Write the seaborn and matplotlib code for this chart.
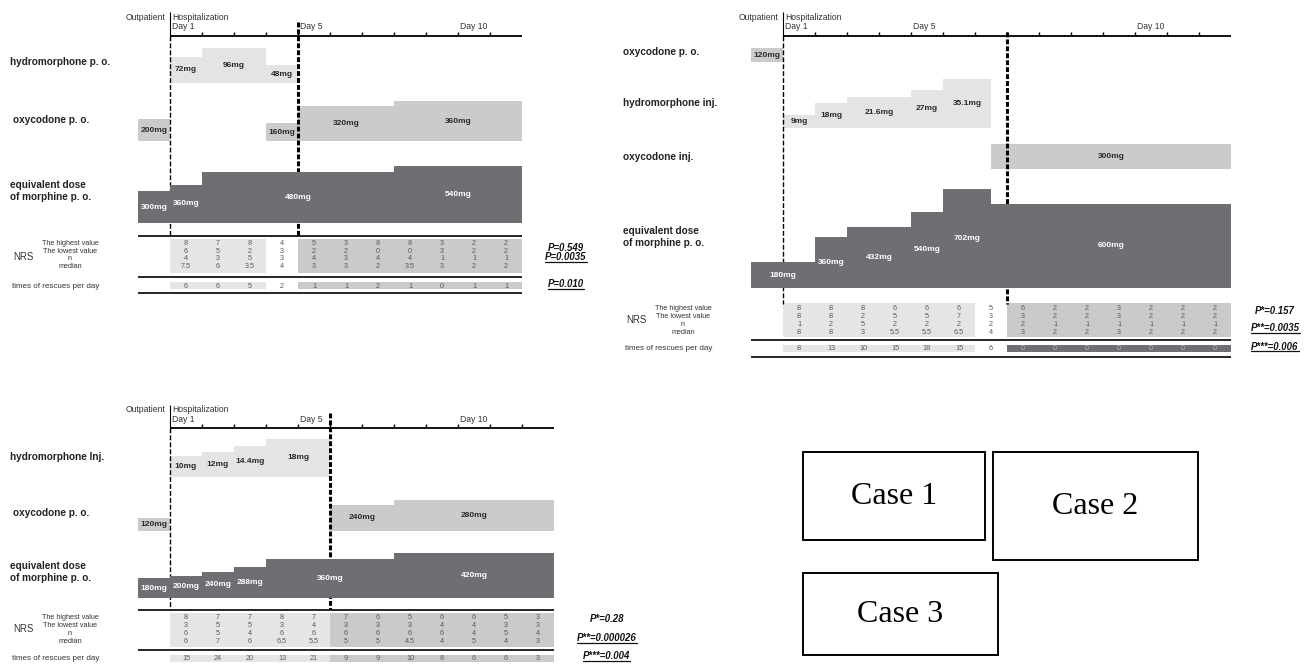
import numpy as np
import matplotlib
matplotlib.use("Agg")
import matplotlib.pyplot as plt
from matplotlib.lines import Line2D
from matplotlib.patches import Rectangle
from matplotlib.transforms import IdentityTransform
import seaborn as sns

sns.set_style("white")
plt.rcParams['font.family'] = ['Liberation Sans', 'DejaVu Sans']
plt.rcParams['lines.scale_dashes'] = False

W, H = 1310, 666
DAY = 32  # pixels per day column

# ---- data: (start day, end day, dose mg); day 0 = outpatient, day k = hospital day k ----
c1_hydro_po = [(1, 2, 72), (2, 4, 96), (4, 5, 48)]
c1_oxy_po = [(0, 1, 200), (4, 5, 160), (5, 8, 320), (8, 12, 360)]
c1_morph = [(0, 1, 300), (1, 2, 360), (2, 8, 480), (8, 12, 540)]

c2_oxy_po = [(0, 1, 120)]
c2_hydro_inj = [(1, 2, 9), (2, 3, 18), (3, 5, 21.6), (5, 6, 27), (6, 7.5, 35.1)]
c2_oxy_inj = [(7.5, 15, 300)]
c2_morph = [(0, 2, 180), (2, 3, 360), (3, 5, 432), (5, 6, 540), (6, 7.5, 702), (7.5, 15, 600)]

c3_hydro_inj = [(1, 2, 10), (2, 3, 12), (3, 4, 14.4), (4, 6, 18)]
c3_oxy_po = [(0, 1, 120), (6, 8, 240), (8, 13, 280)]
c3_morph = [(0, 1, 180), (1, 2, 200), (2, 3, 240), (3, 4, 288), (4, 8, 360), (8, 13, 420)]

# NRS table
c1_high = [8, 7, 8, 4, 5, 3, 8, 8, 3, 2, 2]
c1_low = [6, 5, 2, 3, 2, 2, 0, 0, 3, 2, 2]
c1_n = [4, 3, 5, 3, 4, 3, 4, 4, 1, 1, 1]
c1_median = [7.5, 6, 3.5, 4, 3, 3, 2, 3.5, 3, 2, 2]
c1_rescues = [6, 6, 5, 2, 1, 1, 2, 1, 0, 1, 1]
c1_pvals = ['P=0.549', 'P=0.0035', 'P=0.010']

c2_high = [8, 8, 8, 6, 6, 6, 5, 6, 2, 2, 3, 2, 2, 2]
c2_low = [8, 8, 2, 5, 5, 7, 3, 3, 2, 2, 3, 2, 2, 2]
c2_n = [1, 2, 5, 2, 2, 2, 2, 2, 1, 1, 1, 1, 1, 1]
c2_median = [8, 8, 3, 5.5, 5.5, 6.5, 4, 3, 2, 2, 3, 2, 2, 2]
c2_rescues = [8, 13, 10, 15, 18, 15, 6, 0, 0, 0, 0, 0, 0, 0]
c2_pvals = ['P*=0.157', 'P**=0.0035', 'P***=0.006']

c3_high = [8, 7, 7, 8, 7, 7, 6, 5, 6, 6, 5, 3]
c3_low = [3, 5, 5, 3, 4, 3, 3, 3, 4, 4, 3, 3]
c3_n = [6, 5, 4, 6, 6, 6, 6, 6, 6, 4, 5, 4]
c3_median = [6, 7, 6, 6.5, 5.5, 5, 5, 4.5, 4, 5, 4, 3]
c3_rescues = [15, 24, 20, 13, 21, 9, 9, 10, 8, 6, 6, 3]
c3_pvals = ['P*=0.28', 'P**=0.000026', 'P***=0.004']

nrs_labels = ['The highest value', 'The lowest value', 'n', 'median']

HYD, OXY, MOR = '#e4e4e5', '#cacbcc', '#6e6f72'
SHADE = {'L': '#e5e5e6', 'M': '#c9cacb', 'D': '#6e6f72'}
TXT = '#222222'
VAL = '#5a5a5a'

fig = plt.figure(figsize=(W / 100, H / 100), dpi=100)
underlined = []


def px_axes(x0, y0, x1, y1):
    return fig.add_axes([x0 / W, 1 - y1 / H, (x1 - x0) / W, (y1 - y0) / H])


def draw_case(x0, n, rows, hdr_y, axis_y, day_labels, thick_day, thick_top, dash_bot,
              tab, tables, shade_nrs, shade_resc, pvals, p_x, p_ys):
    x1 = x0 + DAY * (n + 1)
    tl = px_axes(x0, 0, x1, H)
    tl.set_xlim(0, n + 1)
    tl.set_ylim(H, 0)
    tl.axis('off')
    tl.set_zorder(2)

    # drug rows
    for label, bars, color, base, scale, ly, indent in rows:
        ra = px_axes(x0, base - 130, x1, base)
        ra.set_xlim(0, n + 1)
        ra.set_ylim(0, 130 / scale)
        ra.axis('off')
        ra.set_zorder(3 if color == MOR else 1)
        s = np.array([b[0] for b in bars], float)
        e = np.array([b[1] for b in bars], float)
        d = np.array([b[2] for b in bars], float)
        ra.bar(s, d, width=e - s, align='edge', color=color, linewidth=0)
        tc = 'white' if color == MOR else '#2a2a2a'
        for si, ei, di in bars:
            ra.text((si + ei) / 2, di / 2, f"{di:g}mg", ha='center', va='center',
                    fontsize=6, fontweight='bold', color=tc)
        tl.text(-4.0 + indent, ly, label, ha='left', va='center', fontsize=7.2,
                fontweight='bold', color=TXT, linespacing=1.25)

    # timeline header
    tl.text(1 - 0.13, hdr_y, 'Outpatient', ha='right', va='center', fontsize=6.2, color='#333')
    tl.text(1 + 0.06, hdr_y, 'Hospitalization', ha='left', va='center', fontsize=6.2, color='#333')
    for dd, s in day_labels:
        tl.text(dd + 0.06, hdr_y + 9.5, s, ha='left', va='center', fontsize=6.2, color='#333')
    tl.hlines(axis_y, 1, n + 1, color='black', lw=1.3)
    tl.vlines(range(2, n + 1), axis_y - 4, axis_y, color='black', lw=1)
    tl.vlines(1, hdr_y - 5, axis_y, color='black', lw=0.8)
    tl.vlines(1, axis_y, dash_bot, color='black', lw=1, linestyles=[(0, (3.5, 1.5))])
    tl.vlines(thick_day, thick_top, dash_bot, color='black', lw=2.2, linestyles=[(0, (3.5, 1.5))])

    # NRS table
    top_line, row0, step, shade, nrs_y, mid, resc_y, resc_shade, bottom = tab
    left = -4.06
    if top_line is not None:
        tl.hlines(top_line, left, n + 1, color='black', lw=1.2)
    for key in 'LMD':
        idx = np.array([i for i, c in enumerate(shade_nrs) if c == key])
        if len(idx):
            tl.bar(idx + 1, shade[1] - shade[0], bottom=shade[0], width=1, align='edge',
                   color=SHADE[key], linewidth=0)
        idx = np.array([i for i, c in enumerate(shade_resc) if c == key])
        if len(idx):
            tl.bar(idx + 1, resc_shade[1] - resc_shade[0], bottom=resc_shade[0], width=1,
                   align='edge', color=SHADE[key], linewidth=0)
    for r, (lab, vals) in enumerate(zip(nrs_labels, tables)):
        y = row0 + r * step
        tl.text(-68 / DAY, y, lab, ha='center', va='center', fontsize=5.2, color='#333')
        for i, v in enumerate(vals):
            tl.text(i + 1.5, y, f"{v:g}", ha='center', va='center', fontsize=5.2, color=VAL)
    tl.text(-125 / DAY, nrs_y, 'NRS', ha='left', va='center', fontsize=7, color='#333')
    tl.hlines(mid, left, n + 1, color='black', lw=1.2)
    tl.text(-126 / DAY, resc_y, 'times of rescues per day', ha='left', va='center',
            fontsize=5.8, color='#333')
    resc = tables[4] if len(tables) > 4 else None
    for i, v in enumerate(resc):
        c = '#b8b8b8' if shade_resc[i] == 'D' else VAL
        tl.text(i + 1.5, resc_y, f"{v:g}", ha='center', va='center', fontsize=5.2, color=c)
    if bottom is not None:
        tl.hlines(bottom, left, n + 1, color='black', lw=1.2)

    # p values
    for k, (s, y) in enumerate(zip(pvals, p_ys)):
        t = tl.text((p_x - x0) / DAY, y, s, ha='center', va='center', fontsize=6.9,
                    fontweight='bold', style='italic', color='#111')
        if k > 0:
            underlined.append(t)


draw_case(138, 11,
          [('hydromorphone p. o.', c1_hydro_po, HYD, 83, 0.365, 62, 0),
           ('oxycodone p. o.', c1_oxy_po, OXY, 141, 0.11, 120, 0.1),
           ('equivalent dose\nof morphine p. o.', c1_morph, MOR, 223, 0.106, 191.5, 0)],
          17, 36, [(1, 'Day 1'), (5, 'Day 5'), (10, 'Day 10')], 5, 22, 235,
          (236, 243.3, 7.75, (239, 272.7), 256.7, 276.7, 286, (282.3, 289.3), 293.3),
          [c1_high, c1_low, c1_n, c1_median, c1_rescues], 'LLLNMMMMMMM', 'LLLNMMMMMMM',
          c1_pvals, 566, [247.7, 257.3, 284.3])

draw_case(751, 14,
          [('oxycodone p. o.', c2_oxy_po, OXY, 61.7, 0.111, 51.7, 0),
           ('hydromorphone inj.', c2_hydro_inj, HYD, 127.7, 1.40, 103.3, 0),
           ('oxycodone inj.', c2_oxy_inj, OXY, 169, 0.0833, 156.7, 0),
           ('equivalent dose\nof morphine p. o.', c2_morph, MOR, 287.7, 0.14, 236.7, 0)],
          17, 36, [(1, 'Day 1'), (5, 'Day 5'), (12, 'Day 10')], 8, 32, 304,
          (None, 308.3, 8.1, (303.3, 336.7), 320.3, 340, 348.5, (345, 352.3), 356.7),
          [c2_high, c2_low, c2_n, c2_median, c2_rescues], 'LLLLLLNMMMMMMM', 'LLLLLLNDDDDDDD',
          c2_pvals, 1275, [311, 328, 346.7])

draw_case(138, 12,
          [('hydromorphone Inj.', c3_hydro_inj, HYD, 476.7, 2.1, 457.3, 0),
           ('oxycodone p. o.', c3_oxy_po, OXY, 531, 0.11, 512.7, 0.1),
           ('equivalent dose\nof morphine p. o.', c3_morph, MOR, 597.7, 0.107, 571.7, 0)],
          410, 428.3, [(1, 'Day 1'), (5, 'Day 5'), (10, 'Day 10')], 6, 413, 609,
          (610, 617.7, 8, (613.3, 646.7), 629.5, 650, 658.3, (655, 661.7), None),
          [c3_high, c3_low, c3_n, c3_median, c3_rescues], 'LLLLLMMMMMMM', 'LLLLLMMMMMMM',
          c3_pvals, 606.7, [619, 638.3, 656])

# case legend boxes
ov = fig.add_axes([0, 0, 1, 1])
ov.set_xlim(0, W)
ov.set_ylim(H, 0)
ov.axis('off')
ov.set_zorder(0)
for (bx0, by0, bx1, by1), name in [((803, 452, 985, 540), 'Case 1'),
                                   ((993, 452, 1198, 560), 'Case 2'),
                                   ((803, 573, 998, 655), 'Case 3')]:
    ov.add_patch(Rectangle((bx0, by0), bx1 - bx0, by1 - by0, fill=False, lw=1.4, ec='black'))
    ov.text((bx0 + bx1) / 2, (by0 + by1) / 2, name, ha='center', va='center',
            fontsize=23, family=['Liberation Serif', 'DejaVu Serif'], color='black')

# underline the significant p values
fig.canvas.draw()
for t in underlined:
    bb = t.get_window_extent()
    fig.add_artist(Line2D([bb.x0, bb.x1], [bb.y0 + 0.5, bb.y0 + 0.5], transform=IdentityTransform(),
                          color='#111', lw=0.9))

fig.savefig('out.png', dpi=100)
